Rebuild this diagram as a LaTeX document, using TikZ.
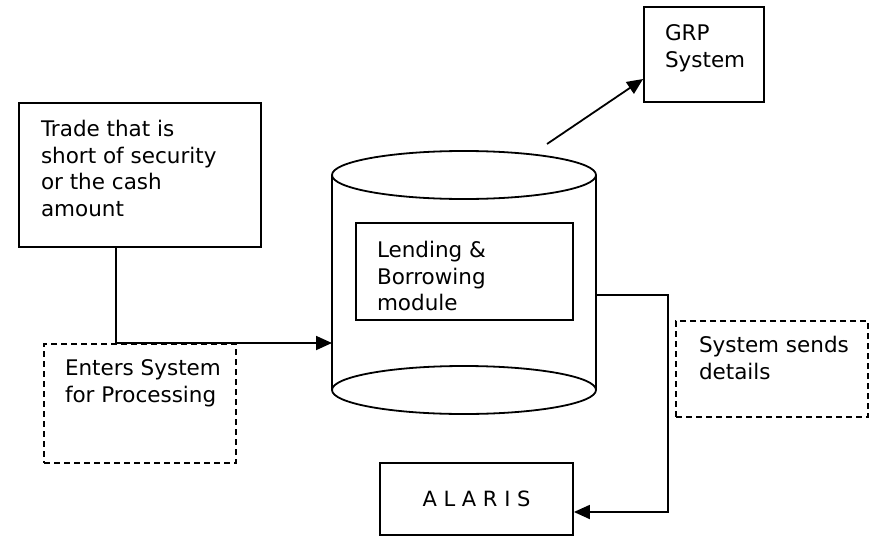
\documentclass[tikz,border=0pt]{standalone}
\usepackage{fontspec}
\setmainfont{DejaVu Sans}
\usetikzlibrary{positioning}
\usetikzlibrary{arrows.meta}
\usetikzlibrary{calc}

\begin{document}
\begin{tikzpicture}[x=1pt,y=-1pt,
  line width=1.8pt,
  box/.style={draw,inner sep=0pt,anchor=center},
  dbox/.style={box,dash pattern=on 6pt off 4pt},
  txt/.style={inner sep=0pt,align=left,
   font=\fontsize{21.5}{26.7}\selectfont},
  arr/.style={-{Triangle[length=16pt,width=14pt]}}]

 \useasboundingbox (0,0) rectangle (876,536);

 % boxes
 \node[box,minimum width=242pt,minimum height=144pt] (trade) at (140,175){};
 \node[dbox,minimum width=192pt,minimum height=119pt] (enters) at (140,403.5){};
 \node[box,minimum width=120pt,minimum height=95pt] (grp) at (704,54.5){};
 \node[dbox,minimum width=192pt,minimum height=96pt] (sends) at (772,369){};
 \node[box,minimum width=193pt,minimum height=72pt,
  font=\fontsize{21}{26.7}\selectfont] (alaris) at (476.5,499){A L A R I S};

 % database
 \draw (464,175) ellipse [x radius=132pt, y radius=24pt];
 \draw (464,390) ellipse [x radius=132pt, y radius=24pt];
 \draw (332,175) -- (332,390);
 \draw (596,175) -- (596,390);
 \coordinate (dbin) at (332,343);
 \coordinate (dbout) at (596,295);
 \coordinate (dbtop) at (547,144);
 \node[box,minimum width=217pt,minimum height=97pt] (module) at (464.5,271.5){};

 % texts
 \node[txt,below right=17pt and 22pt of trade.north west] (labtrade)
  {Trade that is\\short of security\\or the cash\\amount};
 \node[txt,below right=16pt and 21pt of enters.north west] (labenters)
  {Enters System\\for Processing};
 \node[txt,below right=18pt and 21pt of module.north west] (labmodule)
  {Lending \&\\Borrowing\\module};
 \node[txt,below right=18pt and 21pt of grp.north west] (labgrp)
  {GRP\\System};
 \node[txt,below right=15pt and 23pt of sends.north west] (labsends)
  {System sends\\details};

 % connectors
 \coordinate (join) at ($(trade.south west)!0.4!(trade.south east)$);
 \draw (join) -- (join |- dbin);
 \draw[arr] (join |- dbin) -- (dbin);
 \draw[arr] (dbtop) -- ([yshift=-24.5pt]grp.west);
 \draw[arr] (dbout) -- ++(72,0) |- ([yshift=-13pt]alaris.east);
\end{tikzpicture}
\end{document}
